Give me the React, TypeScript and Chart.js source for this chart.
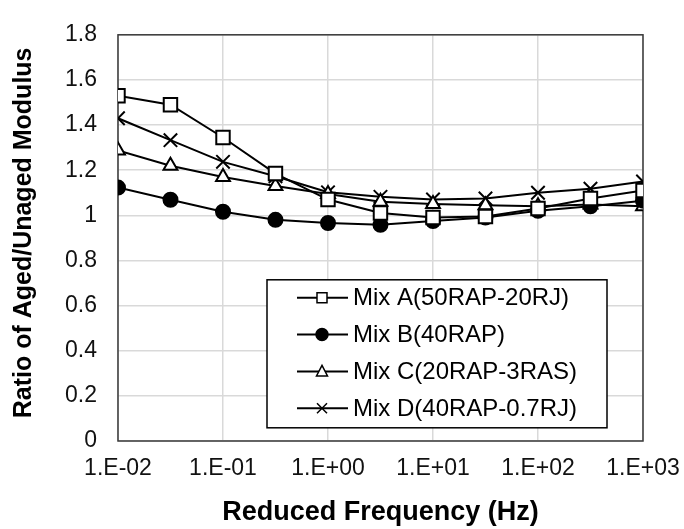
import React, { useEffect, useRef } from 'react';
import { Chart, registerables } from 'chart.js';

Chart.register(...registerables);

// ---- data ----
const frequencies = [0.01, 0.0316, 0.1, 0.316, 1, 3.16, 10, 31.6, 100, 316, 1000];
const mixA = [1.53, 1.49, 1.345, 1.185, 1.07, 1.01, 0.99, 0.995, 1.03, 1.075, 1.11];
const mixB = [1.123, 1.069, 1.016, 0.98, 0.966, 0.958, 0.975, 0.99, 1.02, 1.04, 1.065];
const mixC = [1.287, 1.22, 1.17, 1.13, 1.095, 1.06, 1.05, 1.045, 1.04, 1.048, 1.04];
const mixD = [1.43, 1.333, 1.237, 1.173, 1.102, 1.082, 1.07, 1.075, 1.1, 1.118, 1.15];
const seriesNames = ['Mix A(50RAP-20RJ)', 'Mix B(40RAP)', 'Mix C(20RAP-3RAS)', 'Mix D(40RAP-0.7RJ)'];
const xTickValues = [0.01, 0.1, 1, 10, 100, 1000];
const xTickLabels = ['1.E-02', '1.E-01', '1.E+00', '1.E+01', '1.E+02', '1.E+03'];
const yMin = 0;
const yMax = 1.8;
const yStep = 0.2;
const xTitle = 'Reduced Frequency (Hz)';
const yTitle = 'Ratio of Aged/Unaged Modulus';

const FONT = "'Liberation Sans', Arial, sans-serif";

function drawMarker(ctx: CanvasRenderingContext2D, style: string, x: number, y: number, s: number) {
  ctx.beginPath();
  if (style === 'rect') {
    ctx.rect(x - s, y - s, 2 * s, 2 * s);
    ctx.fillStyle = '#fff';
    ctx.fill();
    ctx.stroke();
  } else if (style === 'circle') {
    ctx.arc(x, y, s + 1, 0, Math.PI * 2);
    ctx.fillStyle = '#000';
    ctx.fill();
    ctx.stroke();
  } else if (style === 'triangle') {
    ctx.moveTo(x, y - s - 1);
    ctx.lineTo(x + s + 0.5, y + s - 0.5);
    ctx.lineTo(x - s - 0.5, y + s - 0.5);
    ctx.closePath();
    ctx.fillStyle = '#fff';
    ctx.fill();
    ctx.stroke();
  } else {
    ctx.moveTo(x - s, y - s);
    ctx.lineTo(x + s, y + s);
    ctx.moveTo(x + s, y - s);
    ctx.lineTo(x - s, y + s);
    ctx.stroke();
  }
}

const framePlugin = {
  id: 'frame',
  beforeDatasetsDraw(chart: any) {
    const { ctx, chartArea } = chart;
    ctx.save();
    ctx.strokeStyle = '#3a3a3a';
    ctx.lineWidth = 1.5;
    ctx.strokeRect(chartArea.left, chartArea.top, chartArea.right - chartArea.left, chartArea.bottom - chartArea.top);
    ctx.restore();
  },
};

const yTitlePlugin = {
  id: 'yTitle',
  afterDraw(chart: any) {
    const { ctx, chartArea } = chart;
    ctx.save();
    ctx.translate(chartArea.left - 94, (chartArea.top + chartArea.bottom) / 2 - 5);
    ctx.rotate(-Math.PI / 2);
    ctx.fillStyle = '#000';
    ctx.font = `bold 25px ${FONT}`;
    ctx.textAlign = 'center';
    ctx.textBaseline = 'middle';
    ctx.fillText(yTitle, 0, 0);
    ctx.restore();
  },
};

const legendPlugin = {
  id: 'insideLegend',
  afterDraw(chart: any) {
    const { ctx, chartArea } = chart;
    const x0 = chartArea.left + 149;
    const y0 = chartArea.top + 245;
    const w = 340;
    const h = 148;
    ctx.save();
    ctx.fillStyle = '#fff';
    ctx.fillRect(x0, y0, w, h);
    ctx.strokeStyle = '#000';
    ctx.lineWidth = 1.5;
    ctx.strokeRect(x0, y0, w, h);
    chart.data.datasets.forEach((ds: any, i: number) => {
      const cy = y0 + 18 + i * 36.8;
      ctx.strokeStyle = '#000';
      ctx.lineWidth = 2;
      ctx.beginPath();
      ctx.moveTo(x0 + 30, cy);
      ctx.lineTo(x0 + 81, cy);
      ctx.stroke();
      ctx.lineWidth = 1.5;
      drawMarker(ctx, ds.pointStyle, x0 + 55, cy, 5);
      ctx.fillStyle = '#000';
      ctx.font = `24px ${FONT}`;
      ctx.textAlign = 'left';
      ctx.textBaseline = 'middle';
      ctx.fillText(ds.label, x0 + 86, cy + 1);
    });
    ctx.restore();
  },
};

export default function App() {
  const canvasRef = useRef<HTMLCanvasElement | null>(null);

  useEffect(() => {
    document.body.style.margin = '0';
    const canvas = canvasRef.current;
    if (!canvas) return;
    const series = [mixA, mixB, mixC, mixD];
    const styles = ['rect', 'circle', 'triangle', 'crossRot'];
    const radii = [9.5, 7, 8, 9.5];
    const fills = ['#fff', '#000', '#fff', '#000'];
    const chart = new Chart(canvas, {
      type: 'line',
      data: {
        datasets: series.map((vals, i) => ({
          label: seriesNames[i],
          data: frequencies.map((f, j) => ({ x: f, y: vals[j] })),
          borderColor: '#000',
          backgroundColor: fills[i],
          borderWidth: 2,
          pointStyle: styles[i] as any,
          pointRadius: radii[i],
          pointBorderWidth: 2,
          pointBorderColor: '#000',
          pointBackgroundColor: fills[i],
          tension: 0,
          fill: false,
        })),
      },
      options: {
        animation: false,
        responsive: false,
        devicePixelRatio: 1,
        layout: { padding: { left: 0, right: 41, top: 20, bottom: 0 } },
        plugins: {
          legend: { display: false },
          tooltip: { enabled: false },
        },
        scales: {
          x: {
            type: 'logarithmic',
            min: xTickValues[0],
            max: xTickValues[xTickValues.length - 1],
            afterBuildTicks: (scale: any) => {
              scale.ticks = xTickValues.map((v) => ({ value: v }));
            },
            afterFit: (scale: any) => {
              scale.height = 88;
              scale.paddingLeft = 0;
              scale.paddingRight = 0;
            },
            ticks: {
              autoSkip: false,
              maxRotation: 0,
              minRotation: 0,
              padding: 14,
              color: '#111',
              font: { family: FONT, size: 23 },
              callback: (v: any) => {
                const idx = xTickValues.findIndex((t) => Math.abs(Math.log10(t) - Math.log10(Number(v))) < 1e-6);
                return idx >= 0 ? xTickLabels[idx] : '';
              },
            },
            grid: { color: '#d9d9d9', lineWidth: 1.5, drawTicks: false },
            border: { display: false },
            title: {
              display: true,
              text: xTitle,
              color: '#000',
              font: { family: FONT, size: 27, weight: 'bold' },
              padding: { top: 0, bottom: 0 },
            },
          },
          y: {
            type: 'linear',
            min: yMin,
            max: yMax,
            afterFit: (scale: any) => {
              scale.width = 118;
            },
            ticks: {
              stepSize: yStep,
              padding: 21,
              color: '#111',
              font: { family: FONT, size: 23 },
              callback: (v: any) => String(Math.round(Number(v) * 10) / 10),
            },
            grid: { color: '#d9d9d9', lineWidth: 1.5, drawTicks: false },
            border: { display: false },
            title: { display: false },
          },
        },
      },
      plugins: [framePlugin, legendPlugin, yTitlePlugin],
    });
    return () => chart.destroy();
  }, []);

  return (
    <div style={{ width: 684, height: 529 }}>
      <canvas ref={canvasRef} width={684} height={529} />
    </div>
  );
}
